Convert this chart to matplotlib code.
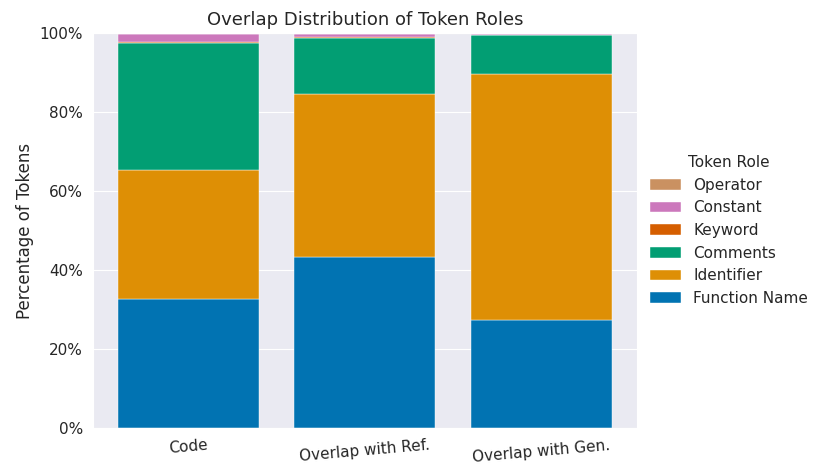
import matplotlib
matplotlib.use("Agg")
import matplotlib.pyplot as plt
import seaborn as sns
import numpy as np
from matplotlib.ticker import PercentFormatter

sns.set_style("darkgrid")
plt.rcParams['font.family'] = ['DejaVu Sans']

categories = ["Code", "Overlap with Ref.", "Overlap with Gen."]
roles = ["Function Name", "Identifier", "Comments", "Keyword", "Constant", "Operator"]
function_name = [32.7, 43.3, 27.3]
identifier = [32.6, 41.3, 62.3]
comments = [32.1, 14.2, 9.9]
keyword = [0.4, 0.1, 0.0]
constant = [2.1, 1.0, 0.4]
operator = [0.1, 0.1, 0.1]
series = [function_name, identifier, comments, keyword, constant, operator]
colors = ["#0173b2", "#de8f05", "#029e73", "#d55e00", "#cc78bc", "#ca9161"]

fig = plt.figure(figsize=(8.3, 4.73), dpi=100)
ax = fig.add_axes([0.112, 0.095, 0.655, 0.835])
x = np.arange(len(categories))
bottom = np.zeros(len(categories))
for name, vals, c in zip(roles, series, colors):
    ax.bar(x, vals, 0.8, bottom=bottom, color=c, label=name, edgecolor="white", linewidth=0.3)
    bottom += np.array(vals)

ax.set_ylim(0, 100)
ax.yaxis.set_major_formatter(PercentFormatter(decimals=0))
ax.set_xticks(x)
ax.set_xticklabels(categories, rotation=5, fontsize=11)
ax.tick_params(axis='y', labelsize=11)
ax.grid(axis='x', visible=False)
ax.set_ylabel("Percentage of Tokens", fontsize=12)
ax.set_title("Overlap Distribution of Token Roles", fontsize=13)
handles, labels = ax.get_legend_handles_labels()
leg = ax.legend(handles[::-1], labels[::-1], title="Token Role", loc="center left",
                bbox_to_anchor=(1.0, 0.5), frameon=False, fontsize=11, title_fontsize=11)
fig.savefig("out.png", dpi=100)
